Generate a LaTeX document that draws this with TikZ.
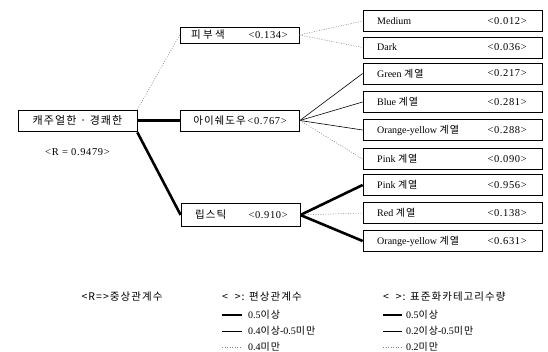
\documentclass[tikz,border=0pt]{standalone}
\usepackage{fontspec}
\setmainfont{Liberation Serif}
\newfontfamily\kr{Noto Sans CJK KR}
\newfontfamily\krs{Noto Sans CJK KR}[LetterSpace=10]
\newfontfamily\valfont{Liberation Serif}[LetterSpace=6]
\begin{document}
\begin{tikzpicture}[x=1pt,y=-1pt,
  box/.style={draw,line width=0.7pt,minimum height=21pt,inner sep=0pt,font=\fontsize{10}{11}\selectfont},
  midbox/.style={box,minimum width=119pt},
  rbox/.style={box,minimum width=179pt},
  txt/.style={inner sep=0pt,font=\fontsize{10}{11}\selectfont},
  val/.style={inner sep=0pt,font=\fontsize{10.5}{11}\selectfont\valfont},
  lg/.style={inner sep=0pt,anchor=west,font=\fontsize{10}{11}\selectfont},
  strong/.style={line width=2.6pt},
  medium/.style={line width=0.6pt},
  weak/.style={line width=0.5pt,gray,dash pattern=on 1pt off 1.5pt}]
\useasboundingbox (0,0) rectangle (548,352);
% root
\node[box,minimum width=119pt,font=\fontsize{11}{12}\selectfont] (root) at (77.5,120.5) {\krs 캐주얼한 · 경쾌한};
\node[val] (rlab) at (77.5,152) {<R = 0.9479>};
% middle boxes
\node[midbox,minimum height=16pt] (skin) at (239.5,35) {};
\node[txt,anchor=west,font=\fontsize{10.5}{11}\selectfont] (skint) at (191,35) {\kr 피 부 색};
\node[val,anchor=east] (skinv) at (288,35) {<0.134>};
\node[midbox] (eye) at (240,120.5) {{\fontsize{10.5}{11}\selectfont\krs 아이쉐도우}\,{\fontsize{10.5}{11}\selectfont\valfont<0.767>}};
\node[midbox,minimum height=23pt] (lip) at (240.5,215) {};
\node[txt,anchor=west,font=\fontsize{10.5}{11}\selectfont] (lipt) at (195,215) {\krs 립스틱};
\node[val,anchor=east] (lipv) at (288,215) {<0.910>};
% right boxes
\foreach \n/\y/\t/\v in {
  med/21/Medium/<0.012>,
  dark/47.5/Dark/<0.036>,
  green/73.5/Green {\krs 계열}/<0.217>,
  blue/102/Blue {\krs 계열}/<0.281>,
  oy/130/Orange-yellow {\krs 계열}/<0.288>,
  pink/159/Pink {\krs 계열}/<0.090>,
  pinkb/185/Pink {\krs 계열}/<0.956>,
  red/213/Red {\krs 계열}/<0.138>,
  oyb/241/Orange-yellow {\krs 계열}/<0.631>}{
  \node[rbox] (\n) at (452.5,\y) {};
  \node[txt,anchor=west] (\n t) at (377,\y) {\t};
  \node[val,anchor=east] (\n v) at (527,\y) {\v};
}
% connectors root -> middle
\draw[weak] (root.north east) -- (skin.west);
\draw[strong] (root.east) -- (eye.west);
\draw[strong] ([yshift=-1pt]root.south east) -- (lip.west);
% skin
\draw[weak] (skin.east) -- (med.west);
\draw[weak] (skin.east) -- (dark.west);
% eye
\draw[medium] (eye.east) -- (green.west);
\draw[medium] (eye.east) -- (blue.west);
\draw[medium] (eye.east) -- (oy.west);
\draw[weak] (eye.east) -- (pink.west);
% lip
\draw[strong] (lip.east) -- (pinkb.west);
\draw[weak] (lip.east) -- (red.west);
\draw[strong] (lip.east) -- (oyb.west);
% legend
\node[lg,anchor=center,font=\fontsize{10.5}{11}\selectfont] (l1) at (122,297) {\krs <R=>중상관계수};
\node[lg,font=\fontsize{10.5}{11}\selectfont] (l2) at (222,297) {\krs <\ \ >: 편상관계수};
\node[lg,font=\fontsize{10.5}{11}\selectfont] (l3) at (383,297) {\krs <\ \ >: 표준화카테고리수량};
\coordinate (a1) at (222,315); \coordinate (a1e) at (242,315);
\coordinate (a2) at (222,331); \coordinate (a2e) at (242,331);
\coordinate (a3) at (222,347); \coordinate (a3e) at (242,347);
\draw[strong] (a1) -- (a1e); \draw[medium] (a2) -- (a2e); \draw[weak] (a3) -- (a3e);
\node[lg] (t1) at (248,315) {0.5{\krs 이상}};
\node[lg] (t2) at (248,331) {0.4{\krs 이상}-0.5{\krs 미만}};
\node[lg] (t3) at (248,347) {0.4{\krs 미만}};
\coordinate (b1) at (383,315); \coordinate (b1e) at (402,315);
\coordinate (b2) at (383,331); \coordinate (b2e) at (402,331);
\coordinate (b3) at (383,347); \coordinate (b3e) at (402,347);
\draw[strong] (b1) -- (b1e); \draw[medium] (b2) -- (b2e); \draw[weak] (b3) -- (b3e);
\node[lg] (u1) at (406,315) {0.5{\krs 이상}};
\node[lg] (u2) at (406,331) {0.2{\krs 이상}-0.5{\krs 미만}};
\node[lg] (u3) at (406,347) {0.2{\krs 미만}};
\end{tikzpicture}
\end{document}
